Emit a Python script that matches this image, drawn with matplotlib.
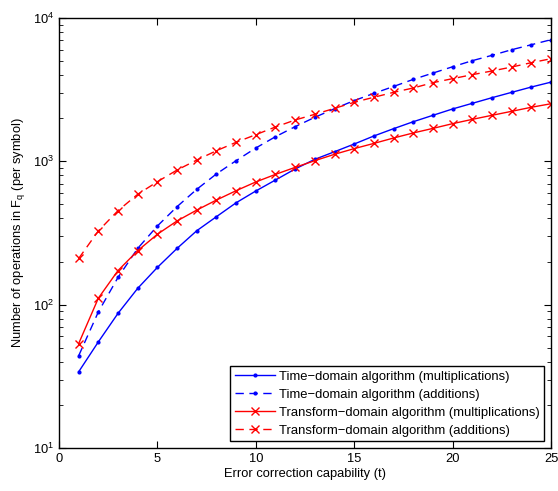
import matplotlib
matplotlib.use("Agg")
import matplotlib.pyplot as plt
from matplotlib.ticker import LogLocator, FixedLocator

plt.rcParams["font.family"] = ["Liberation Sans", "DejaVu Sans"]
plt.rcParams["mathtext.fontset"] = "custom"
plt.rcParams["mathtext.rm"] = "Liberation Sans"
plt.rcParams["mathtext.it"] = "Liberation Sans"

# ===============================
# Data
# ===============================
t = list(range(1, 26))

time_mult = [34, 55, 87, 130, 182, 247, 328, 411, 514, 621, 741, 885, 1033,
             1167, 1321, 1503, 1690, 1890, 2095, 2320, 2540, 2780, 3030, 3300, 3570]
time_add = [44, 89, 155, 247, 354, 483, 638, 817, 1011, 1239, 1486, 1746, 2029,
            2330, 2655, 2980, 3330, 3730, 4130, 4570, 5040, 5490, 6010, 6510, 7060]
trans_mult = [53.5, 111, 173, 238, 310, 384, 457, 537, 624, 718, 811, 908, 1011,
              1120, 1227, 1334, 1455, 1578, 1698, 1832, 1963, 2095, 2234, 2384, 2523]
trans_add = [210, 327, 453, 589, 721, 870, 1021, 1186, 1358, 1535, 1737, 1943, 2130,
             2343, 2582, 2800, 3030, 3250, 3540, 3775, 4025, 4270, 4550, 4880, 5200]

labels = [
    "Time\u2212domain algorithm (multiplications)",
    "Time\u2212domain algorithm (additions)",
    "Transform\u2212domain algorithm (multiplications)",
    "Transform\u2212domain algorithm (additions)",
]

# ===============================
# Plot
# ===============================
fig = plt.figure(figsize=(5.58, 4.91), dpi=100)
ax = fig.add_axes([0.1057, 0.0876, 0.8818, 0.8757])

ax.plot(t, time_mult, color="blue", linestyle="-", marker=".", markersize=4,
        linewidth=1, label=labels[0])
ax.plot(t, time_add, color="blue", linestyle=(0, (6, 4)), marker=".", markersize=4,
        linewidth=1, label=labels[1])
ax.plot(t, trans_mult, color="red", linestyle="-", marker="x", markersize=6,
        linewidth=1, label=labels[2])
ax.plot(t, trans_add, color="red", linestyle=(0, (6, 4)), marker="x", markersize=6,
        linewidth=1, label=labels[3])

ax.set_yscale("log")
ax.set_xlim(0, 25)
ax.set_ylim(10, 1e4)
ax.xaxis.set_major_locator(FixedLocator([0, 5, 10, 15, 20, 25]))
ax.yaxis.set_major_locator(LogLocator(base=10, numticks=10))
ax.yaxis.set_minor_locator(LogLocator(base=10, subs=range(2, 10), numticks=10))

ax.tick_params(which="both", direction="in", top=True, right=True, labelsize=9.3)
ax.tick_params(which="major", length=5)
ax.tick_params(which="minor", length=3)
for s in ax.spines.values():
    s.set_linewidth(1)

ax.set_xlabel("Error correction capability (t)", fontsize=9.3, labelpad=2)
ax.set_ylabel("Number of operations in F$_\\mathregular{q}$ (per symbol)", fontsize=9.3)

leg = ax.legend(loc="lower right", fontsize=9.4, fancybox=False, edgecolor="black",
                framealpha=1, handlelength=3.1, handletextpad=0.3, borderpad=0.35,
                labelspacing=0.45, borderaxespad=0.5)
leg.get_frame().set_linewidth(1)

fig.savefig("out.png", dpi=100)
